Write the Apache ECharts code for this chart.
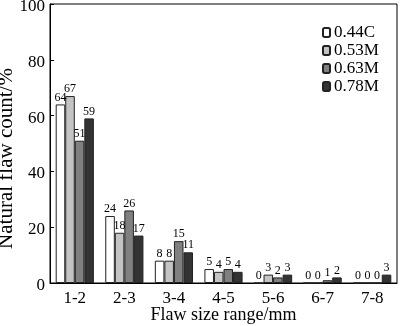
<!DOCTYPE html>
<html><head><meta charset="utf-8">
<script src="https://cdn.jsdelivr.net/npm/echarts@6/dist/echarts.min.js"></script>
<style>html,body{margin:0;padding:0;background:#fff}#c{width:400px;height:326px}</style>
</head><body><div id="c"></div>
<script>
const categories = ['1-2','2-3','3-4','4-5','5-6','6-7','7-8'];
const s044C = [64,24,8,5,0,0,0];
const s053M = [67,18,8,4,3,0,0];
const s063M = [51,26,15,5,2,1,0];
const s078M = [59,17,11,4,3,2,3];
const seriesNames = ['0.44C','0.53M','0.63M','0.78M'];
const yTicks = [0,20,40,60,80,100];

const F = 'Liberation Serif, Times New Roman, serif';
const colors = ['#ffffff','#c4c4c4','#808080','#333333'];
const dataSets = [s044C,s053M,s063M,s078M];

const chart = echarts.init(document.getElementById('c'));
chart.setOption({
  animation:false,
  grid:{left:50,right:3,top:4,bottom:43,outerBoundsMode:'none',containLabel:false,show:true,borderColor:'#000',borderWidth:1,backgroundColor:'transparent'},
  legend:{
    orient:'vertical',left:317,top:19,itemWidth:7,itemHeight:9,itemGap:1,
    textStyle:{fontFamily:F,fontSize:17,color:'#000',padding:[0,0,0,-1]},
    data:seriesNames
  },
  xAxis:{
    type:'category',data:categories,
    axisLine:{lineStyle:{color:'#000',width:1}},
    axisTick:{inside:true,length:4,lineStyle:{color:'#999'}},
    axisLabel:{fontFamily:F,fontSize:17,color:'#000',margin:7},
    name:'Flaw size range/mm',nameLocation:'middle',nameGap:23,nameMoveOverlap:false,
    nameTextStyle:{fontFamily:F,fontSize:18,color:'#000',verticalAlign:'top'}
  },
  yAxis:{
    type:'value',min:yTicks[0],max:yTicks[yTicks.length-1],interval:20,
    axisLine:{show:true,lineStyle:{color:'#000',width:1}},
    axisTick:{show:true,inside:true,length:4,lineStyle:{color:'#000'}},
    splitLine:{show:false},
    axisLabel:{
      margin:5,formatter:'{v|{value}}',
      rich:{v:{fontFamily:F,fontSize:17,color:'#000',padding:[5,0,0,0]}}
    },
    name:'Natural flaw count/%',nameLocation:'middle',nameGap:33,nameMoveOverlap:false,
    nameTextStyle:{fontFamily:F,fontSize:21,color:'#000',padding:[0,30,0,0]}
  },
  series: seriesNames.map((n,i)=>({
    name:n,type:'bar',data:dataSets[i],
    barGap:'0%',barCategoryGap:'23%',
    itemStyle:{color:colors[i],borderColor:'#222',borderWidth:1},
    label:{show:true,position:'top',distance:1,fontFamily:F,fontSize:12,color:'#000'}
  }))
});
</script></body></html>
